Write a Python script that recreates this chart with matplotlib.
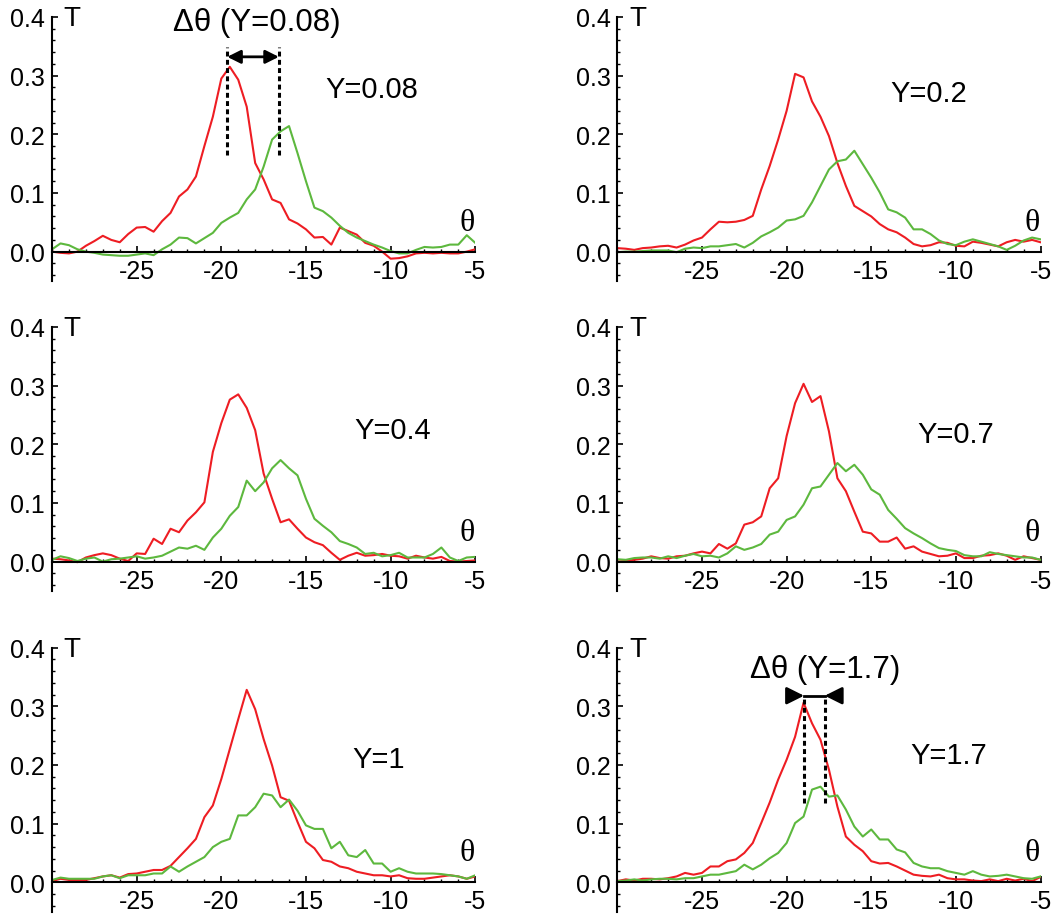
import numpy as np
import matplotlib
matplotlib.use("Agg")
import matplotlib.pyplot as plt
from matplotlib.ticker import MultipleLocator, FixedLocator

plt.rcParams['font.family'] = ['Liberation Sans', 'DejaVu Sans']

# --- DATA (step 0.5 deg) ---
theta = np.linspace(-30, -5, 51)

red_008 = [0.000, -0.002, -0.003, 0.000, 0.010, 0.018, 0.027, 0.020, 0.016, 0.030,
           0.041, 0.042, 0.034, 0.052, 0.066, 0.094, 0.106, 0.128, 0.180, 0.230,
           0.295, 0.315, 0.293, 0.247, 0.151, 0.123, 0.089, 0.083, 0.055, 0.048,
           0.038, 0.024, 0.025, 0.012, 0.041, 0.035, 0.029, 0.015, 0.010, 0.000,
           -0.012, -0.011, -0.008, -0.003, -0.002, -0.003, -0.002, -0.003, -0.003, 0.000,
           0.004]
green_008 = [0.004, 0.014, 0.011, 0.004, 0.000, -0.002, -0.005, -0.006, -0.007, -0.007,
             -0.005, -0.003, -0.006, 0.004, 0.012, 0.024, 0.023, 0.014, 0.023, 0.032,
             0.049, 0.058, 0.066, 0.089, 0.106, 0.145, 0.191, 0.205, 0.214, 0.168,
             0.120, 0.075, 0.069, 0.058, 0.044, 0.032, 0.024, 0.018, 0.012, 0.007,
             0.001, -0.003, -0.003, 0.003, 0.008, 0.007, 0.008, 0.012, 0.012, 0.028,
             0.015]

red_02 = [0.006, 0.005, 0.003, 0.006, 0.007, 0.009, 0.010, 0.007, 0.012, 0.019,
          0.024, 0.038, 0.051, 0.050, 0.051, 0.054, 0.061, 0.106, 0.146, 0.191,
          0.240, 0.303, 0.297, 0.256, 0.230, 0.197, 0.151, 0.112, 0.078, 0.069,
          0.060, 0.047, 0.038, 0.033, 0.024, 0.013, 0.009, 0.011, 0.016, 0.015,
          0.010, 0.009, 0.017, 0.015, 0.012, 0.009, 0.016, 0.020, 0.017, 0.020,
          0.016]
green_02 = [-0.001, 0.000, 0.000, 0.001, 0.002, 0.002, 0.002, -0.001, 0.005, 0.007,
            0.006, 0.009, 0.009, 0.011, 0.013, 0.007, 0.015, 0.026, 0.033, 0.041,
            0.053, 0.055, 0.061, 0.084, 0.112, 0.140, 0.154, 0.157, 0.172, 0.149,
            0.126, 0.101, 0.072, 0.067, 0.058, 0.038, 0.038, 0.030, 0.019, 0.013,
            0.011, 0.017, 0.021, 0.017, 0.013, 0.009, 0.003, 0.010, 0.019, 0.024,
            0.021]

red_04 = [0.005, 0.004, 0.002, -0.001, 0.007, 0.011, 0.014, 0.011, 0.005, 0.001,
          0.014, 0.013, 0.039, 0.030, 0.056, 0.050, 0.070, 0.084, 0.101, 0.187,
          0.236, 0.276, 0.285, 0.262, 0.224, 0.150, 0.107, 0.067, 0.072, 0.056,
          0.041, 0.033, 0.028, 0.015, 0.003, 0.010, 0.015, 0.010, 0.011, 0.013,
          0.010, 0.009, 0.005, 0.010, 0.007, 0.005, 0.008, 0.001, 0.000, 0.001,
          0.002]
green_04 = [0.003, 0.009, 0.006, 0.001, 0.005, 0.007, 0.000, 0.004, 0.005, 0.007,
            0.009, 0.005, 0.007, 0.010, 0.017, 0.024, 0.022, 0.027, 0.020, 0.041,
            0.056, 0.078, 0.093, 0.138, 0.120, 0.135, 0.159, 0.173, 0.159, 0.147,
            0.107, 0.073, 0.061, 0.050, 0.035, 0.030, 0.024, 0.013, 0.015, 0.009,
            0.011, 0.015, 0.007, 0.007, 0.007, 0.013, 0.024, 0.007, 0.001, 0.007,
            0.008]

red_07 = [0.000, 0.001, 0.003, 0.005, 0.009, 0.006, 0.005, 0.009, 0.010, 0.014,
          0.017, 0.014, 0.030, 0.022, 0.031, 0.063, 0.067, 0.077, 0.125, 0.142,
          0.214, 0.270, 0.303, 0.272, 0.282, 0.222, 0.142, 0.120, 0.085, 0.051,
          0.048, 0.034, 0.034, 0.041, 0.022, 0.026, 0.017, 0.013, 0.009, 0.010,
          0.014, 0.006, 0.006, 0.010, 0.011, 0.014, 0.010, 0.003, 0.009, 0.006,
          0.003]
green_07 = [0.004, 0.003, 0.006, 0.007, 0.007, 0.005, 0.009, 0.006, 0.010, 0.013,
            0.009, 0.010, 0.007, 0.014, 0.026, 0.020, 0.024, 0.030, 0.046, 0.051,
            0.071, 0.077, 0.097, 0.125, 0.128, 0.148, 0.168, 0.154, 0.165, 0.148,
            0.123, 0.114, 0.088, 0.073, 0.057, 0.048, 0.040, 0.031, 0.023, 0.020,
            0.018, 0.011, 0.009, 0.009, 0.016, 0.013, 0.011, 0.009, 0.007, 0.007,
            0.003]

red_1 = [0.002, 0.006, 0.004, 0.004, 0.004, 0.007, 0.010, 0.012, 0.008, 0.014,
         0.015, 0.018, 0.021, 0.021, 0.028, 0.043, 0.058, 0.074, 0.111, 0.131,
         0.176, 0.227, 0.278, 0.328, 0.295, 0.244, 0.199, 0.145, 0.139, 0.103,
         0.069, 0.058, 0.038, 0.035, 0.027, 0.024, 0.018, 0.015, 0.012, 0.012,
         0.010, 0.012, 0.007, 0.006, 0.006, 0.008, 0.010, 0.012, 0.010, 0.006,
         0.010]
green_1 = [0.004, 0.008, 0.006, 0.006, 0.006, 0.006, 0.010, 0.012, 0.007, 0.012,
           0.012, 0.012, 0.015, 0.015, 0.027, 0.018, 0.027, 0.035, 0.043, 0.060,
           0.069, 0.074, 0.114, 0.114, 0.128, 0.151, 0.148, 0.128, 0.141, 0.122,
           0.097, 0.091, 0.091, 0.058, 0.069, 0.046, 0.043, 0.055, 0.032, 0.032,
           0.018, 0.024, 0.018, 0.015, 0.015, 0.015, 0.014, 0.012, 0.010, 0.006,
           0.012]

red_17 = [0.002, 0.005, 0.003, 0.006, 0.006, 0.005, 0.007, 0.010, 0.016, 0.013,
          0.016, 0.027, 0.027, 0.036, 0.039, 0.050, 0.067, 0.101, 0.136, 0.175,
          0.209, 0.248, 0.306, 0.271, 0.243, 0.192, 0.129, 0.078, 0.064, 0.053,
          0.036, 0.032, 0.033, 0.027, 0.020, 0.013, 0.011, 0.010, 0.013, 0.007,
          0.005, 0.005, 0.003, 0.002, 0.005, 0.002, 0.006, 0.003, 0.006, 0.002,
          0.009]
green_17 = [0.002, 0.003, 0.005, 0.003, 0.005, 0.006, 0.006, 0.005, 0.007, 0.007,
            0.010, 0.013, 0.013, 0.016, 0.019, 0.030, 0.022, 0.030, 0.041, 0.050,
            0.067, 0.101, 0.112, 0.158, 0.163, 0.146, 0.148, 0.124, 0.095, 0.078,
            0.090, 0.073, 0.073, 0.056, 0.051, 0.033, 0.027, 0.024, 0.024, 0.019,
            0.016, 0.013, 0.019, 0.013, 0.010, 0.011, 0.013, 0.010, 0.007, 0.006,
            0.010]

y_labels = ["Y=0.08", "Y=0.2", "Y=0.4", "Y=0.7", "Y=1", "Y=1.7"]
y_label_pos = [(-11.1, 0.277), (-11.6, 0.271), (-9.9, 0.224),
               (-10.0, 0.217), (-10.7, 0.21), (-10.4, 0.217)]
reds = [red_008, red_02, red_04, red_07, red_1, red_17]
greens = [green_008, green_02, green_04, green_07, green_1, green_17]

RED = "#ee1d23"
GREEN = "#5db83e"

fig = plt.figure(figsize=(10.62, 9.2), dpi=100)

lefts = [0.049, 0.5813]
bottoms = [0.6935, 0.3566, 0.008]
W, H = 0.3985, 0.287

axes = []
for i in range(6):
    ax = fig.add_axes([lefts[i % 2], bottoms[i // 2], W, H])
    axes.append(ax)
    ax.plot(theta, reds[i], color=RED, lw=1.5)
    ax.plot(theta, greens[i], color=GREEN, lw=1.5)

    ax.set_xlim(-30, -5)
    ax.set_ylim(-0.05, 0.4)
    ax.spines['top'].set_visible(False)
    ax.spines['right'].set_visible(False)
    ax.spines['bottom'].set_position(('data', 0))
    ax.spines['left'].set_linewidth(1.5)
    ax.spines['bottom'].set_linewidth(1.5)

    ax.xaxis.set_major_locator(FixedLocator([-25, -20, -15, -10, -5]))
    ax.xaxis.set_minor_locator(MultipleLocator(1))
    ax.yaxis.set_major_locator(FixedLocator([0, 0.1, 0.2, 0.3, 0.4]))
    ax.yaxis.set_minor_locator(MultipleLocator(0.02))
    ax.set_yticklabels(["0.0", "0.1", "0.2", "0.3", "0.4"])
    ax.set_xticklabels(["-25", "-20", "-15", "-10", "-5"])
    ax.tick_params(which='major', direction='in', length=4, width=1.2,
                   labelsize=18, pad=5)
    ax.tick_params(which='minor', direction='in', length=2.5, width=1)

    ax.text(-28.8, 0.398, "T", fontsize=20, ha='center', va='center')
    ax.text(-5.5, 0.05, "θ", fontsize=23, ha='center', va='center',
            family=['Liberation Serif', 'DejaVu Serif'])
    ax.text(y_label_pos[i][0], y_label_pos[i][1], y_labels[i], fontsize=21,
            ha='center', va='center')

# Annotation Y=0.08
ax = axes[0]
for xv in [-19.65, -16.6]:
    ax.plot([xv, xv], [0.165, 0.349], color='k', lw=2.2, ls=(0, (1.6, 1.1)))
ax.annotate('', xy=(-16.6, 0.332), xytext=(-19.65, 0.332),
            arrowprops=dict(arrowstyle='<|-|>', color='k', lw=2,
                            mutation_scale=20, shrinkA=0, shrinkB=0))
ax.text(-17.9, 0.392, "Δθ (Y=0.08)", fontsize=22.5, ha='center', va='center')

# Annotation Y=1.7
ax = axes[5]
for xv in [-18.97, -17.75]:
    ax.plot([xv, xv], [0.136, 0.316], color='k', lw=2.2, ls=(0, (1.6, 1.1)))
ax.plot([-18.97, -17.75], [0.318, 0.318], color='k', lw=2)
ax.annotate('', xy=(-18.97, 0.318), xytext=(-19.9, 0.318),
            arrowprops=dict(arrowstyle='-|>', color='k', lw=2,
                            mutation_scale=26, shrinkA=0, shrinkB=0))
ax.annotate('', xy=(-17.75, 0.318), xytext=(-16.8, 0.318),
            arrowprops=dict(arrowstyle='-|>', color='k', lw=2,
                            mutation_scale=26, shrinkA=0, shrinkB=0))
ax.text(-17.75, 0.364, "Δθ (Y=1.7)", fontsize=22.5, ha='center', va='center')

plt.savefig("out.png", dpi=100)
